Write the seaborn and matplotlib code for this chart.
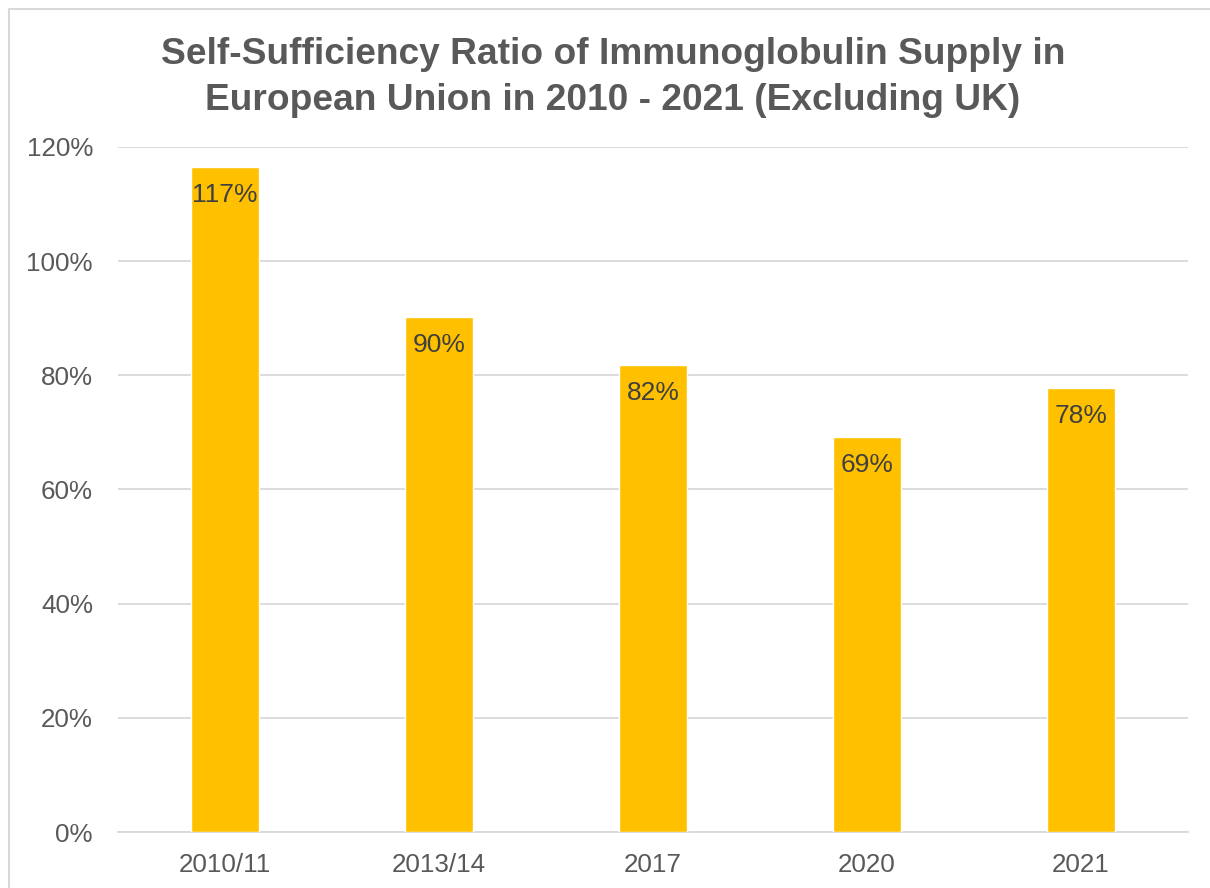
import matplotlib
matplotlib.use("Agg")
import matplotlib.pyplot as plt
from matplotlib.lines import Line2D
import seaborn as sns
import pandas as pd

categories = ["2010/11", "2013/14", "2017", "2020", "2021"]
ratios = [116.5, 90.2, 81.8, 69.2, 77.8]
value_labels = ["117%", "90%", "82%", "69%", "78%"]
y_ticks = [0, 20, 40, 60, 80, 100, 120]
y_tick_labels = ["0%", "20%", "40%", "60%", "80%", "100%", "120%"]
title = "Self-Sufficiency Ratio of Immunoglobulin Supply in\nEuropean Union in 2010 - 2021 (Excluding UK)"

sns.set_theme(style="white")
plt.rcParams["font.family"] = ["Liberation Sans", "DejaVu Sans"]

W, H = 1210, 888
fig = plt.figure(figsize=(W / 100, H / 100), dpi=100)
ax = fig.add_axes([118 / W, 1 - 832 / H, (1188 - 118) / W, (832 - 147) / H])

df = pd.DataFrame({"cat": categories, "val": ratios})
sns.barplot(data=df, x="cat", y="val", color="#FFC000", width=0.315,
            saturation=1, ax=ax, zorder=3)

ax.set_ylim(0, 120)
ax.set_xlim(-0.5, len(categories) - 0.5)
ax.set_yticks(y_ticks)
ax.set_yticklabels(y_tick_labels)
ax.yaxis.grid(True, color="#D9D9D9", linewidth=1.3, zorder=0)
ax.set_axisbelow(True)
for s in ["top", "right", "left"]:
    ax.spines[s].set_visible(False)
ax.spines["bottom"].set_color("#D9D9D9")
ax.spines["bottom"].set_linewidth(1.3)
ax.tick_params(axis="both", length=0, labelsize=18.7, labelcolor="#595959")
ax.tick_params(axis="y", pad=18)
ax.tick_params(axis="x", pad=15)
ax.set_xlabel("")
ax.set_ylabel("")

for i, (v, lab) in enumerate(zip(ratios, value_labels)):
    ax.annotate(lab, xy=(i, v), xytext=(0, -11.5), textcoords="offset points",
                ha="center", va="top", fontsize=19, color="#404040", zorder=5)

fig.text(613 / W, 1 - 77.5 / H, title, ha="center", va="center",
         fontsize=26.7, fontweight="bold", color="#595959", linespacing=1.38)

# light grey outer frame (top and left visible)
fig.add_artist(Line2D([9 / W, 1], [1 - 9 / H, 1 - 9 / H], color="#D9D9D9",
                      linewidth=1.5, transform=fig.transFigure))
fig.add_artist(Line2D([9 / W, 9 / W], [0, 1 - 9 / H], color="#D9D9D9",
                      linewidth=1.5, transform=fig.transFigure))

fig.savefig("out.png", dpi=100, facecolor="white")
